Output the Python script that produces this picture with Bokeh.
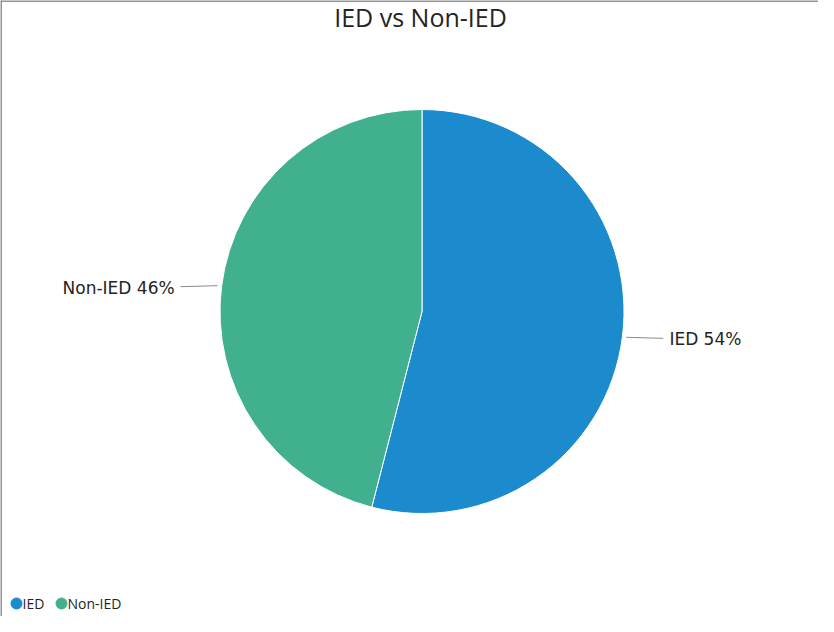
import math
from bokeh.plotting import figure
from bokeh.models import ColumnDataSource, Span
from bokeh.core.properties import value
from bokeh.embed import file_html
from bokeh.resources import INLINE

# ---- data ----
categories = ["IED", "Non-IED"]
shares = [54, 46]
colors = ["#1B8BCD", "#41B08E"]
title_text = "IED vs Non-IED"

W, H = 818, 616
p = figure(width=W, height=H, output_backend="svg", toolbar_location=None,
           x_range=(0, W), y_range=(0, H), min_border=0)
p.axis.visible = False
p.grid.visible = False
p.outline_line_color = None
p.background_fill_color = "white"
p.border_fill_color = "white"

# frame (top + left)
p.add_layout(Span(location=0.5, dimension="height", line_color="#707070", line_width=1.5))
p.add_layout(Span(location=H - 0.5, dimension="width", line_color="#707070", line_width=1.5))

# title
p.text(x=[420], y=[H - 16], text=[title_text], text_align="center",
       text_baseline="middle", text_font=value("Open Sans"),
       text_font_size="25px", text_color="#252423")

cx, cy, r = 421.5, 305, 202
total = sum(shares)
starts, ends, mids = [], [], []
acc = 0.0
for v in shares:
    # clockwise from 12 o'clock
    a0 = math.pi / 2 - 2 * math.pi * acc / total
    a1 = math.pi / 2 - 2 * math.pi * (acc + v) / total
    starts.append(a1)
    ends.append(a0)
    mids.append((a0 + a1) / 2)
    acc += v

src = ColumnDataSource(dict(cat=categories, val=shares, start=starts, end=ends, color=colors))
p.wedge(x=cx, y=cy, radius=r, start_angle="start", end_angle="end",
        fill_color="color", line_color="white", line_width=1, source=src)

# leader lines + labels
for cat, v, m in zip(categories, shares, mids):
    x0 = cx + (r + 4) * math.cos(m)
    y0 = cy + (r + 4) * math.sin(m)
    side = 1 if math.cos(m) >= 0 else -1
    x1 = x0 + side * 37
    y1 = y0 - 1
    p.line(x=[x0, x1], y=[y0, y1], line_color="#8a8a8a", line_width=1)
    p.text(x=[x1 + side * 6], y=[y1 - 1], text=[f"{cat} {v}%"],
           text_align="left" if side > 0 else "right", text_baseline="middle",
           text_font=value("DejaVu Sans"), text_font_size="17px", text_color="#252423")

# legend (manual)
lx = 16
for cat, c in zip(categories, colors):
    p.scatter(x=[lx], y=[13], marker="circle", size=11, fill_color=c, line_color=c)
    p.text(x=[lx + 6], y=[13], text=[cat], text_align="left", text_baseline="middle",
           text_font=value("Open Sans"), text_font_size="14px", text_color="#252423")
    lx += 45

open("out.html", "w").write(file_html(p, INLINE))
